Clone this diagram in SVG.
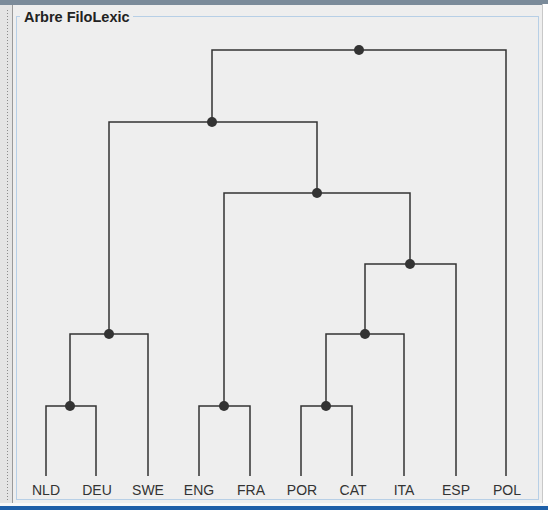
<svg xmlns="http://www.w3.org/2000/svg" width="548" height="510" viewBox="0 0 548 510">
<style>
.ln{fill:none;stroke:#333;stroke-width:1.5}
.dot{fill:#333}
.lbl{font-family:"Liberation Sans",Arial,sans-serif;font-size:14px;fill:#333;text-anchor:middle}
.ttl{font-family:"Liberation Sans",Arial,sans-serif;font-size:14.5px;font-weight:bold;fill:#222}
</style>
<rect x="0" y="0" width="548" height="510" fill="#eeeeee"/>
<rect x="0" y="0" width="548" height="5" fill="#7b8b9a"/>
<rect x="543" y="4" width="5" height="500" fill="#ffffff"/>
<line x1="542.5" y1="4" x2="542.5" y2="504" stroke="#c8c8c8"/>
<rect x="0" y="5" width="13" height="500" fill="#e4e4e4"/>
<line x1="7.5" y1="10" x2="7.5" y2="500" stroke="#8a8a8a" stroke-dasharray="1 2"/>
<line x1="12.5" y1="5" x2="12.5" y2="503" stroke="#9a9a9a"/>
<rect x="0" y="503" width="548" height="3" fill="#f8f8f8"/>
<rect x="0" y="506" width="548" height="4" fill="#1e5fa8"/>
<rect x="16.5" y="16.5" width="522" height="483" fill="none" stroke="#b7cfe6"/>
<rect x="20" y="8" width="113" height="16" fill="#eeeeee"/>
<text class="ttl" x="24" y="22">Arbre FiloLexic</text>
<g id="connectors">
<polyline class="ln" points="212,122 212,50 506,50 506,476"/>
<polyline class="ln" points="109,334 109,122 317,122 317,193"/>
<polyline class="ln" points="70,406 70,334 148,334 148,476"/>
<polyline class="ln" points="46,476 46,406 96,406 96,476"/>
<polyline class="ln" points="224,406 224,193 410,193 410,264"/>
<polyline class="ln" points="199,476 199,406 250,406 250,476"/>
<polyline class="ln" points="365,334 365,264 456,264 456,476"/>
<polyline class="ln" points="326,406 326,334 404,334 404,476"/>
<polyline class="ln" points="301,476 301,406 352,406 352,476"/>
</g>
<g id="n-root"><circle class="dot" cx="359" cy="50" r="5"/></g>
<g id="n-a"><circle class="dot" cx="212" cy="122" r="5"/></g>
<g id="n-germ"><circle class="dot" cx="109" cy="334" r="5"/></g>
<g id="n-nld-deu"><circle class="dot" cx="70" cy="406" r="5"/></g>
<g id="n-d"><circle class="dot" cx="317" cy="193" r="5"/></g>
<g id="n-eng-fra"><circle class="dot" cx="224" cy="406" r="5"/></g>
<g id="n-f"><circle class="dot" cx="410" cy="264" r="5"/></g>
<g id="n-g"><circle class="dot" cx="365" cy="334" r="5"/></g>
<g id="n-por-cat"><circle class="dot" cx="326" cy="406" r="5"/></g>
<g id="leaf-NLD"><text class="lbl" x="46" y="495">NLD</text></g>
<g id="leaf-DEU"><text class="lbl" x="97" y="495">DEU</text></g>
<g id="leaf-SWE"><text class="lbl" x="148" y="495">SWE</text></g>
<g id="leaf-ENG"><text class="lbl" x="199" y="495">ENG</text></g>
<g id="leaf-FRA"><text class="lbl" x="251" y="495">FRA</text></g>
<g id="leaf-POR"><text class="lbl" x="302" y="495">POR</text></g>
<g id="leaf-CAT"><text class="lbl" x="353" y="495">CAT</text></g>
<g id="leaf-ITA"><text class="lbl" x="404" y="495">ITA</text></g>
<g id="leaf-ESP"><text class="lbl" x="456" y="495">ESP</text></g>
<g id="leaf-POL"><text class="lbl" x="507" y="495">POL</text></g>
</svg>
